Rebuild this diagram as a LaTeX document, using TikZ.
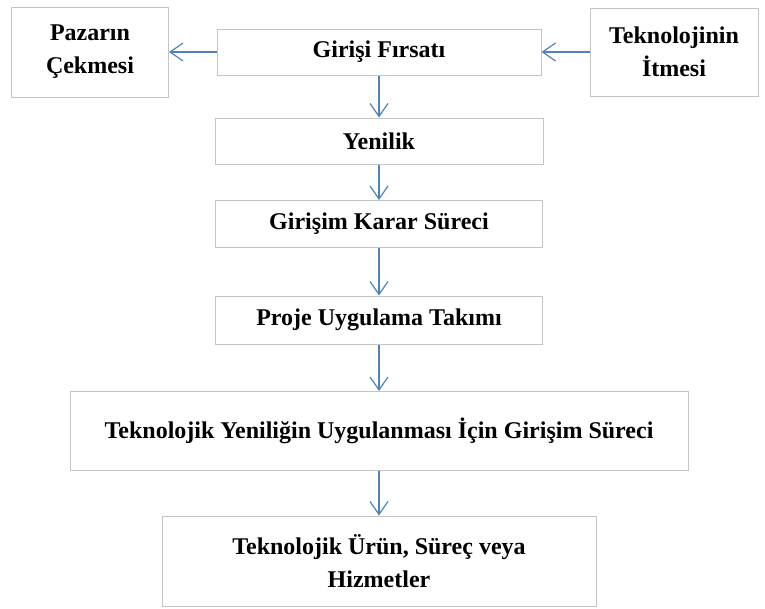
\documentclass[tikz,border=0pt]{standalone}
\usepackage{fontspec}
\setmainfont{Liberation Serif}
\usetikzlibrary{positioning,arrows.meta}
\definecolor{kenar}{HTML}{C4C4C4}
\definecolor{ok}{HTML}{4F81BD}
\tikzset{>={Straight Barb[length=13pt,width=18pt]}}
\tikzset{kutu/.style={rectangle, draw=kenar, line width=1pt, align=center, inner sep=2pt,
    font=\fontsize{24}{33}\selectfont\bfseries}}

\begin{document}
\begin{tikzpicture}[x=1pt, y=1pt]
      \useasboundingbox (0,0) rectangle (765,-608);
      \node[kutu, minimum width=324pt, minimum height=46pt] (firsat) at (379,-52) {Girişi Fırsatı};
      \node[kutu, minimum width=157pt, minimum height=90pt, left of=firsat, node distance=289pt] (pazar) {Pazarın\\Çekmesi};
      \node[kutu, minimum width=168pt, minimum height=88pt, right of=firsat, node distance=295pt] (itme) {Teknolojinin\\İtmesi};
      \node[kutu, minimum width=328pt, minimum height=46pt, below of=firsat, node distance=89pt] (yenilik) {Yenilik};
      \node[kutu, minimum width=327pt, minimum height=47pt, below of=yenilik, node distance=83pt] (karar) {Girişim Karar Süreci};
      \node[kutu, minimum width=327pt, minimum height=48pt, below of=karar, node distance=96pt] (takim) {Proje Uygulama Takımı};
      \node[kutu, minimum width=618pt, minimum height=79pt, below of=takim, node distance=111pt] (surec) {Teknolojik Yeniliğin Uygulanması İçin Girişim Süreci};
      \node[kutu, minimum width=434pt, minimum height=90pt, below of=surec, node distance=130pt] (urun) {Teknolojik Ürün, Süreç veya\\Hizmetler};
      \draw[draw=ok, line width=1.2pt, ->] (firsat) -- (pazar);
      \draw[draw=ok, line width=1.2pt, ->] (itme) -- (firsat);
      \draw[draw=ok, line width=1.2pt, ->] (firsat) -- (yenilik);
      \draw[draw=ok, line width=1.2pt, ->] (yenilik) -- (karar);
      \draw[draw=ok, line width=1.2pt, ->] (karar) -- (takim);
      \draw[draw=ok, line width=1.2pt, ->] (takim) -- (surec);
      \draw[draw=ok, line width=1.2pt, ->] (surec) -- (urun);
    \end{tikzpicture}
\end{document}
